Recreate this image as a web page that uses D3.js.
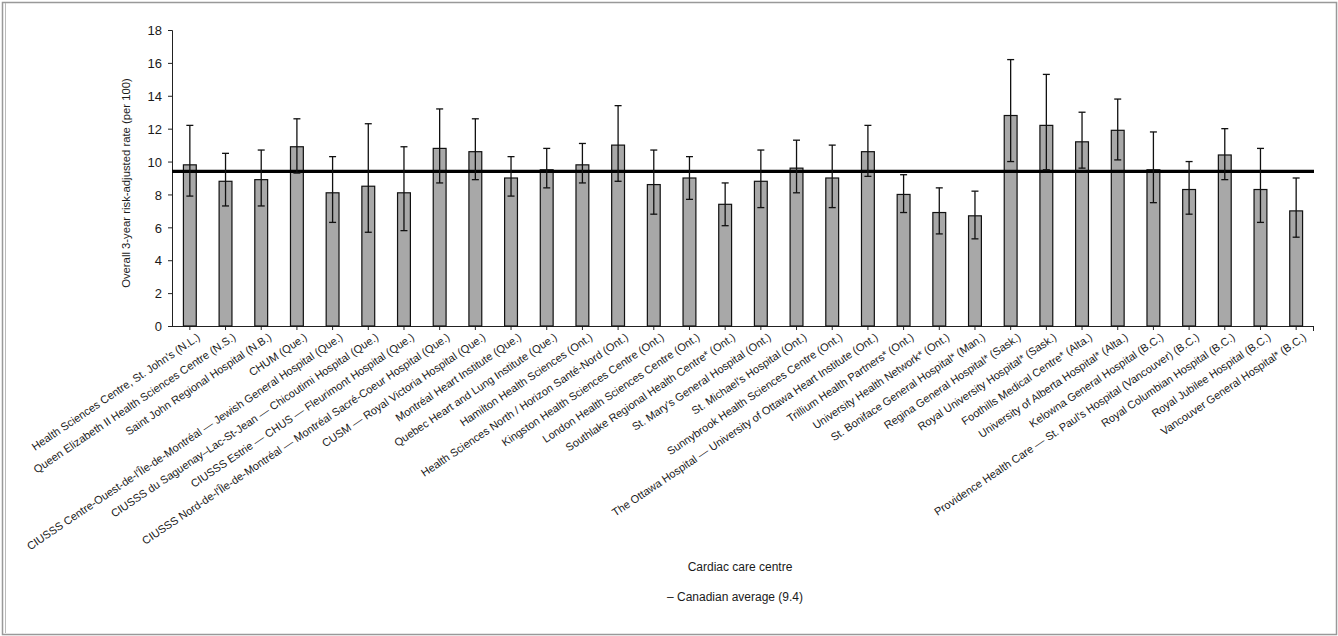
<!DOCTYPE html>
<html>
<head>
<meta charset="utf-8">
<script src="https://cdn.jsdelivr.net/npm/d3@7"></script>
<style>
body { margin: 0; background: #fff; }
text { font-family: "Liberation Sans", Arial, sans-serif; fill: #1a1a1a; }
</style>
</head>
<body>
<script>
//Центры, значения и доверительные интервалы
var centres = [
	"Health Sciences Centre, St. John's (N.L.)",
	"Queen Elizabeth II Health Sciences Centre (N.S.)",
	"Saint John Regional Hospital (N.B.)",
	"CHUM (Que.)",
	"CIUSSS Centre-Ouest-de-l'Île-de-Montréal — Jewish General Hospital (Que.)",
	"CIUSSS du Saguenay–Lac-St-Jean — Chicoutimi Hospital (Que.)",
	"CIUSSS Estrie — CHUS — Fleurimont Hospital (Que.)",
	"CIUSSS Nord-de-l'Île-de-Montréal — Montréal Sacré-Coeur Hospital (Que.)",
	"CUSM — Royal Victoria Hospital (Que.)",
	"Montréal Heart Institute (Que.)",
	"Quebec Heart and Lung Institute (Que.)",
	"Hamilton Health Sciences (Ont.)",
	"Health Sciences North / Horizon Santé-Nord (Ont.)",
	"Kingston Health Sciences Centre (Ont.)",
	"London Health Sciences Centre (Ont.)",
	"Southlake Regional Health Centre* (Ont.)",
	"St. Mary's General Hospital (Ont.)",
	"St. Michael's Hospital (Ont.)",
	"Sunnybrook Health Sciences Centre (Ont.)",
	"The Ottawa Hospital — University of Ottawa Heart Institute (Ont.)",
	"Trillium Health Partners* (Ont.)",
	"University Health Network* (Ont.)",
	"St. Boniface General Hospital* (Man.)",
	"Regina General Hospital* (Sask.)",
	"Royal University Hospital* (Sask.)",
	"Foothills Medical Centre* (Alta.)",
	"University of Alberta Hospital* (Alta.)",
	"Kelowna General Hospital (B.C.)",
	"Providence Health Care — St. Paul's Hospital (Vancouver) (B.C.)",
	"Royal Columbian Hospital (B.C.)",
	"Royal Jubilee Hospital (B.C.)",
	"Vancouver General Hospital* (B.C.)"
];
var rates = [9.8, 8.8, 8.9, 10.9, 8.1, 8.5, 8.1, 10.8, 10.6, 9.0, 9.5, 9.8, 11.0, 8.6, 9.0, 7.4,
	8.8, 9.6, 9.0, 10.6, 8.0, 6.9, 6.7, 12.8, 12.2, 11.2, 11.9, 9.5, 8.3, 10.4, 8.3, 7.0];
var upper = [12.2, 10.5, 10.7, 12.6, 10.3, 12.3, 10.9, 13.2, 12.6, 10.3, 10.8, 11.1, 13.4, 10.7, 10.3, 8.7,
	10.7, 11.3, 11.0, 12.2, 9.2, 8.4, 8.2, 16.2, 15.3, 13.0, 13.8, 11.8, 10.0, 12.0, 10.8, 9.0];
var lower = [7.9, 7.3, 7.3, 9.3, 6.3, 5.7, 5.8, 8.7, 8.9, 7.9, 8.4, 8.7, 8.8, 6.8, 7.7, 6.1,
	7.2, 8.1, 7.2, 9.1, 6.9, 5.6, 5.3, 10.0, 9.5, 9.6, 10.1, 7.5, 6.8, 8.9, 6.3, 5.4];
var average = 9.4;
var yTicks = [0, 2, 4, 6, 8, 10, 12, 14, 16, 18];

var W = 1338, H = 636;
var plot = { left: 172, right: 1314, top: 30, bottom: 326 };

var svg = d3.select("body").append("svg").attr("width", W).attr("height", H);

//рамка вокруг картинки
svg.append("rect").attr("x", 2.5).attr("y", 2.5).attr("width", W - 4).attr("height", H - 4)
	.style("fill", "none").style("stroke", "#999").style("stroke-width", 1.5);
svg.append("line").attr("x1", 5.5).attr("x2", 5.5).attr("y1", 3).attr("y2", H - 3)
	.style("stroke", "#bbb").style("stroke-width", 1);

var x = d3.scaleBand().domain(d3.range(centres.length)).range([plot.left, plot.right])
	.paddingInner(0.64).paddingOuter(0.32);
var y = d3.scaleLinear().domain([0, 18]).range([plot.bottom, plot.top]);

var data = centres.map(function(c, i) {
	return { name: c, v: rates[i], hi: upper[i], lo: lower[i], i: i };
});

//оси
var yAxis = svg.append("g").attr("transform", "translate(" + plot.left + ",0)")
	.call(d3.axisLeft(y).tickValues(yTicks).tickSize(4).tickPadding(6).tickFormat(d3.format("d")));
yAxis.select(".domain").style("stroke", "#222");
yAxis.selectAll(".tick line").style("stroke", "#222");
yAxis.selectAll("text").style("font-size", "13px").attr("dy", "0.36em");

svg.append("line").attr("x1", plot.left).attr("x2", plot.right)
	.attr("y1", plot.bottom + 0.5).attr("y2", plot.bottom + 0.5).style("stroke", "#222");
svg.append("g").selectAll("line").data(data).enter().append("line")
	.attr("x1", function(d) { return x(d.i) + x.bandwidth() / 2; })
	.attr("x2", function(d) { return x(d.i) + x.bandwidth() / 2; })
	.attr("y1", plot.bottom).attr("y2", plot.bottom + 4).style("stroke", "#222");
svg.append("line").attr("x1", plot.right - 0.5).attr("x2", plot.right - 0.5)
	.attr("y1", plot.bottom).attr("y2", plot.bottom + 5).style("stroke", "#222");

//столбики
svg.append("g").selectAll("rect").data(data).enter().append("rect")
	.attr("x", function(d) { return x(d.i); })
	.attr("y", function(d) { return y(d.v); })
	.attr("width", x.bandwidth())
	.attr("height", function(d) { return y(0) - y(d.v); })
	.style("fill", "#a8a8a8").style("stroke", "#111").style("stroke-width", 1.2);

//средняя по Канаде
svg.append("line").attr("x1", plot.left).attr("x2", plot.right)
	.attr("y1", y(average)).attr("y2", y(average))
	.style("stroke", "#000").style("stroke-width", 3.2);

//усы
var err = svg.append("g").style("stroke", "#111").style("stroke-width", 1.3);
data.forEach(function(d) {
	var cx = x(d.i) + x.bandwidth() / 2;
	err.append("line").attr("x1", cx).attr("x2", cx).attr("y1", y(d.hi)).attr("y2", y(d.lo));
	err.append("line").attr("x1", cx - 3.5).attr("x2", cx + 3.5).attr("y1", y(d.hi)).attr("y2", y(d.hi));
	err.append("line").attr("x1", cx - 3.5).attr("x2", cx + 3.5).attr("y1", y(d.lo)).attr("y2", y(d.lo));
});

//подписи категорий под наклоном
svg.append("g").selectAll("text").data(data).enter().append("text")
	.attr("transform", function(d) {
		return "translate(" + (x(d.i) + x.bandwidth() / 2 + 11) + "," + (plot.bottom + 13) + ") rotate(-34)";
	})
	.attr("text-anchor", "end")
	.style("font-size", "11px")
	.text(function(d) { return d.name; });

svg.append("text")
	.attr("transform", "translate(130," + ((plot.top + plot.bottom) / 2 + 5) + ") rotate(-90)")
	.attr("text-anchor", "middle").style("font-size", "11.3px")
	.text("Overall 3-year risk-adjusted rate (per 100)");

svg.append("text").attr("x", 740).attr("y", 571).attr("text-anchor", "middle")
	.style("font-size", "12px").text("Cardiac care centre");
svg.append("text").attr("x", 735).attr("y", 601).attr("text-anchor", "middle")
	.style("font-size", "12px").text("– Canadian average (9.4)");
</script>
</body>
</html>
